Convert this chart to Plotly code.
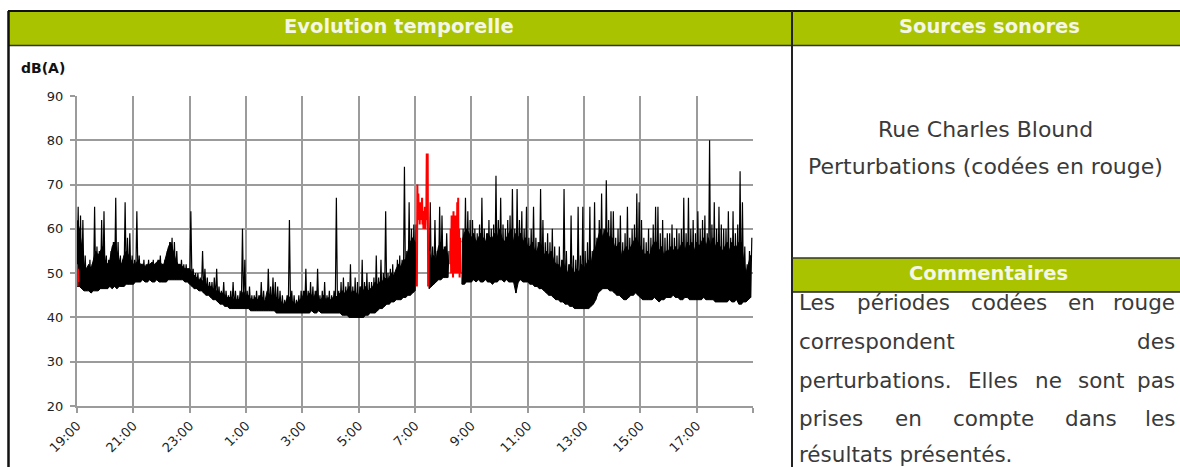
import plotly.graph_objects as go

# ---------------- data ----------------
# x axis: hours elapsed since 19:00 (0 .. 24)
tick_hours = [0, 2, 4, 6, 8, 10, 12, 14, 16, 18, 20, 22, 24]
tick_labels = ["19:00", "21:00", "23:00", "1:00", "3:00", "5:00", "7:00",
               "9:00", "11:00", "13:00", "15:00", "17:00", ""]
y_ticks = [20, 30, 40, 50, 60, 70, 80, 90]

step_min = 5  # sampling step of the black series (minutes), starting 19:00

# lower envelope of each 5-minute slot, dB(A)  (one row per hour, from 19:00)
lows = [
    47, 47, 46.5, 46, 46, 46, 45.5, 46, 46, 46, 46.5, 46.5,                 # 19h
    46.5, 46.5, 47, 46.5, 47, 46.5, 47, 47, 47, 47.5, 47.5, 47.5,           # 20h
    47.5, 48, 48, 48, 48.5, 48, 48, 48.5, 48, 48, 48.5, 48,                 # 21h
    48, 48, 48, 48.5, 48.5, 48.5, 48.5, 48.5, 48.5, 48.5, 48, 48,           # 22h
    47.5, 47, 46.5, 46.5, 46, 46, 45.5, 45, 45, 44.5, 44, 44,               # 23h
    43.5, 43, 43, 42.5, 42.5, 42, 42, 42, 42, 42, 42, 42,                   # 0h
    42, 42, 41.5, 41.5, 41.5, 41.5, 41.5, 41.5, 41.5, 41.5, 41.5, 41.5,     # 1h
    41.5, 41, 41, 41, 41, 41, 41, 41, 41, 41, 41, 41,                       # 2h
    41, 41, 41, 41, 41.5, 41, 41, 41.5, 41, 41, 41, 41,                     # 3h
    41, 41, 41, 41, 41, 40.5, 40.5, 40.5, 40, 40, 40, 40,                   # 4h
    40, 40, 40, 40.5, 40.5, 41, 41, 41, 41.5, 42, 42, 42.5,                 # 5h
    43, 43, 43.5, 43.5, 44, 44, 44, 44.5, 44.5, 45, 45, 45.5,               # 6h
    46, None, None, None, None, None, 46.5, 47, 47.5, 48, 48.5, 48.5,       # 7h
    49, 49, 49, None, None, None, None, None, 47.5, 47.5, 48, 48,           # 8h
    48, 48.5, 48, 48.5, 48, 48, 48.5, 48, 48, 47.5, 48, 48,                 # 9h
    48.5, 48.5, 48, 48.5, 48, 48, 48, 45.5, 48, 48.5, 48, 48,               # 10h
    48, 47.5, 47.5, 47, 47, 46.5, 46.5, 46, 45.5, 45, 45, 44.5,             # 11h
    44, 44, 43.5, 43.5, 43, 43, 42.5, 42.5, 42, 42, 42, 42,                 # 12h
    42, 42, 42, 42.5, 43, 44, 45.5, 46, 46.5, 46.5, 46.5, 46,               # 13h
    46, 45.5, 45, 45, 44.5, 44, 44, 44.5, 45, 45, 45.5, 45,                 # 14h
    44.5, 44, 44, 44, 44, 44, 44.5, 44, 43.5, 44, 44, 44.5,                 # 15h
    44.5, 44.5, 45, 44.5, 44.5, 44, 44, 44.5, 44.5, 44, 44, 44,             # 16h
    44, 44, 44, 44.5, 44, 44, 44, 44, 43.5, 43.5, 43.5, 43.5,               # 17h
    43.5, 43.5, 44, 43.5, 43.5, 44, 43, 43, 43.5, 43.5, 44, 44.5,           # 18h
]

# top of the dense (solid) part of each 5-minute slot, dB(A)
band_top = [
    62, 60, 56, 52, 51, 52, 51, 53, 55, 54, 55, 56,                         # 19h
    53, 52, 53, 56, 57, 55, 53, 52, 54, 55, 54, 53,                         # 20h
    52, 52, 53, 52, 52, 51.5, 52, 52, 52.5, 52, 52.5, 53,                   # 21h
    52, 52, 54, 56, 57, 55, 53, 52, 52, 51.5, 51, 51,                       # 22h
    51, 50, 49.5, 49, 48.5, 48.5, 48, 47.5, 47, 47, 46.5, 46,               # 23h
    46, 45.5, 45.5, 45, 44.5, 44.5, 44.5, 44, 44, 44, 45, 46,               # 0h
    44.5, 45, 44, 44, 44.5, 44, 45, 44.5, 43.5, 46, 45, 45,                 # 1h
    45, 44.5, 44, 43.5, 43, 43.5, 45, 44, 43.5, 43, 43.5, 44,               # 2h
    44.5, 46, 44.5, 45.5, 45, 44.5, 46, 44, 44, 45, 44, 44.5,               # 3h
    44, 44.5, 45, 44.5, 45.5, 46, 45.5, 46, 47, 45.5, 46, 45.5,             # 4h
    45, 47, 46, 47, 46, 46.5, 47, 48, 47.5, 48, 48, 49,                     # 5h
    48.5, 49, 50, 49.5, 51, 52, 51.5, 53, 53, 55, 57, 58,                   # 6h
    57, None, None, None, None, None, 55, 53, 54, 53, 56, 57,               # 7h
    55, 56, 54, None, None, None, None, None, 57, 59, 60, 59,               # 8h
    58, 59, 57, 58, 59, 58, 57, 59, 58, 58, 59, 58,                         # 9h
    60, 58, 57, 58, 59, 60, 57, 59, 58, 59, 57, 58,                         # 10h
    56, 56, 57, 55, 55, 57, 56, 54, 55, 54, 55, 53,                         # 11h
    52, 52, 51, 53, 51, 50, 52, 51, 50, 51, 50, 52,                         # 12h
    51, 52, 53, 52, 55, 56, 58, 60, 58, 60, 59, 58,                         # 13h
    58, 56, 56, 57, 54, 55, 56, 55, 56, 57, 58, 57,                         # 14h
    56, 55, 54, 55, 54, 56, 57, 57, 55, 56, 54, 55,                         # 15h
    55, 56, 55, 56, 55, 56, 57, 55, 57, 56, 57, 55,                         # 16h
    57, 56, 57, 58, 56, 58, 56, 58, 56, 57, 56, 55,                         # 17h
    56, 57, 55, 57, 56, 56, 57, 57, 53, 50, 52, 54,                         # 18h
]

# upper value (peak) of each 5-minute slot, dB(A)
highs = [
    65, 63, 62, 54, 51, 53, 52, 65, 56, 55, 62, 64,                         # 19h
    54, 53, 55, 57, 67, 57, 54, 53, 66, 58, 59, 54,                         # 20h
    53, 64, 54, 52, 53, 52, 53, 52, 53, 52, 53, 54,                         # 21h
    52, 53, 55, 57, 58, 57, 55, 52, 53, 52, 52, 51,                         # 22h
    64, 51, 50, 50, 49, 55, 51, 49, 48, 48, 49, 51,                         # 23h
    47, 46, 48, 46, 45, 46, 48, 46, 45, 46, 60, 53,                         # 0h
    46, 47, 45, 45, 46, 45, 48, 46, 44, 51, 47, 49,                         # 1h
    48, 47, 46, 45, 44, 45, 62, 46, 45, 44, 45, 46,                         # 2h
    46, 51, 46, 48, 47, 46, 51, 45, 46, 48, 45, 46,                         # 3h
    45, 46, 67, 46, 48, 49, 47, 48, 52, 47, 49, 48,                         # 4h
    47, 53, 48, 50, 48, 48, 49, 54, 49, 53, 50, 64,                         # 5h
    50, 51, 52, 50, 53, 54, 53, 74, 55, 66, 60, 61,                         # 6h
    61, None, None, None, None, None, 66, 56, 62, 55, 65, 63,               # 7h
    56, 59, 55, None, None, None, None, None, 60, 67, 64, 62,               # 8h
    62, 60, 59, 61, 67, 60, 59, 62, 60, 61, 72, 62,                         # 9h
    67, 61, 60, 62, 63, 69, 60, 69, 62, 64, 60, 65,                         # 10h
    58, 60, 65, 58, 57, 69, 62, 57, 59, 57, 60, 56,                         # 11h
    54, 56, 53, 69, 55, 52, 63, 54, 53, 65, 54, 65,                         # 12h
    55, 57, 65, 55, 66, 58, 62, 68, 60, 71, 62, 64,                         # 13h
    64, 58, 60, 63, 57, 59, 65, 58, 60, 61, 68, 66,                         # 14h
    62, 58, 57, 60, 58, 61, 65, 65, 59, 62, 58, 59,                         # 15h
    59, 61, 58, 60, 59, 60, 67, 59, 67, 60, 62, 59,                         # 16h
    64, 60, 62, 63, 59, 80, 61, 66, 60, 65, 61, 60,                         # 17h
    60, 64, 58, 64, 59, 61, 73, 66, 56, 52, 55, 58,                         # 18h
]

# perturbations (coded in red), 1-minute samples
red1_start_min = 0          # 19:00
red1_vals = [52, 47, 51, 48]
red2_start_min = 724        # 07:04
red2_vals = [47, 70, 62, 68, 63, 66, 61, 65, 62, 66, 63, 67, 61, 64, 60, 63,
             61, 65, 60, 63, 62, 77, 62, 77, 47, 55]
red3_start_min = 795        # 08:15
red3_vals = [52, 60, 50, 63, 51, 62, 49, 64, 52, 61, 50, 63, 55, 62, 50, 66,
             53, 67, 50, 60, 49, 58, 50]

# texts
title_left = "Evolution temporelle"
title_right = "Sources sonores"
title_comments = "Commentaires"
y_unit = "dB(A)"
sources = ["Rue Charles Blound", "Perturbations (codées en rouge)"]
comment_lines = [
    ["Les", "périodes", "codées", "en", "rouge"],
    ["correspondent", "des"],
    ["perturbations.", "Elles", "ne", "sont", "pas"],
    ["prises", "en", "compte", "dans", "les"],
    ["résultats présentés."],
]

# ---------------- build traces ----------------
fig = go.Figure()

segments, cur = [], []
for i, (lo, top) in enumerate(zip(lows, band_top)):
    if lo is None:
        if cur:
            segments.append(cur)
        cur = []
    else:
        cur.append((i * step_min / 60.0, lo, top))
if cur:
    segments.append(cur)
for seg in segments:
    xs = [s[0] for s in seg] + [s[0] for s in reversed(seg)]
    ys = [s[1] for s in seg] + [s[2] for s in reversed(seg)]
    fig.add_trace(go.Scatter(x=xs, y=ys, mode="lines", fill="toself", fillcolor="black",
                             line=dict(color="black", width=1), hoverinfo="skip",
                             showlegend=False))

bx, by = [], []
for i, (lo, hi) in enumerate(zip(lows, highs)):
    t = i * step_min / 60.0
    if lo is None:
        bx.append(None); by.append(None)
        continue
    bx += [t, t + step_min / 120.0]
    by += [lo, hi]
fig.add_trace(go.Scatter(x=bx, y=by, mode="lines", line=dict(color="black", width=1.2),
                         hoverinfo="skip", showlegend=False, connectgaps=False))

for s, v in [(red1_start_min, red1_vals), (red2_start_min, red2_vals), (red3_start_min, red3_vals)]:
    rx = [(s + k) / 60.0 for k in range(len(v))]
    fig.add_trace(go.Scatter(x=rx, y=v, mode="lines", line=dict(color="#ff0000", width=2),
                             hoverinfo="skip", showlegend=False))

# ---------------- layout ----------------
W, H = 1180, 467
L, R, T, B = 77, 753, 96, 406      # plot area in page pixels


def px(x):
    return (x - L) / (R - L)


def py(y):
    return (B - y) / (B - T)


GREEN = "#a9c300"
GRID = "#9b9b9b"
shapes = []
for x0, x1, y0, y1 in [(8, 792, 12, 45), (792, 1185, 12, 45), (792, 1185, 258, 292)]:
    shapes.append(dict(type="rect", xref="paper", yref="paper",
                       x0=px(x0), x1=px(x1), y0=py(y1), y1=py(y0),
                       fillcolor=GREEN, line=dict(width=0), layer="below"))
for x0, y0, x1, y1, c, w in [
    (8, 11, 1185, 11, "#111111", 2),
    (8, 45.5, 1185, 45.5, "#333333", 1.5),
    (8.5, 11, 8.5, 470, "#111111", 2.5),
    (792, 11, 792, 470, "#222222", 2),
    (792, 258, 1185, 258, "#333333", 1.5),
    (792, 292, 1185, 292, "#222222", 1.5),
]:
    shapes.append(dict(type="line", xref="paper", yref="paper",
                       x0=px(x0), x1=px(x1), y0=py(y0), y1=py(y1),
                       line=dict(color=c, width=w)))

ann = []
HDR_FONT = dict(family="DejaVu Sans", size=19.5, color="#f4f6e6")
for text, x, y in [(title_left, 399, 26), (title_right, 989, 26), (title_comments, 988, 273)]:
    ann.append(dict(text="<b>" + text + "</b>", x=px(x), y=py(y), xref="paper", yref="paper",
                    showarrow=False, xanchor="center", yanchor="middle", font=HDR_FONT))

ann.append(dict(text="<b>" + y_unit + "</b>", x=px(19), y=py(68), xref="paper", yref="paper",
                showarrow=False, xanchor="left", yanchor="middle",
                font=dict(family="DejaVu Sans", size=14, color="#111111")))

SRC_FONT = dict(family="DejaVu Sans", size=22, color="#3a3a3a")
for text, y in zip(sources, [129, 166]):
    ann.append(dict(text=text, x=px(985), y=py(y), xref="paper", yref="paper",
                    showarrow=False, xanchor="center", yanchor="middle", font=SRC_FONT))

# justified comment text (word widths estimated with DejaVu Sans advance widths)
CMT_SIZE = 21.5
ADV = {'a': .613, 'b': .635, 'c': .550, 'd': .635, 'e': .615, 'é': .615, 'g': .635, 'i': .278,
       'l': .278, 'm': .974, 'n': .634, 'o': .612, 'p': .635, 'r': .411, 's': .521, 't': .392,
       'u': .634, 'E': .632, 'L': .557, '.': .318, ' ': .318}


def text_w(s):
    return sum(ADV.get(ch, .6) for ch in s) * CMT_SIZE


CMT_FONT = dict(family="DejaVu Sans", size=CMT_SIZE, color="#3a3a3a")
x_left, x_right = 797, 1177
line_y = [302, 341, 380, 418, 455]
for yline, words in zip(line_y, comment_lines):
    n = len(words)
    if n == 1:
        ann.append(dict(text=words[0], x=px(x_left), y=py(yline), xref="paper", yref="paper",
                        showarrow=False, xanchor="left", yanchor="middle", font=CMT_FONT))
        continue
    widths = [text_w(w) for w in words]
    gap = (x_right - x_left - sum(widths)) / (n - 1)
    xcur = x_left
    for k, (w, wd) in enumerate(zip(words, widths)):
        if k == n - 1:
            ann.append(dict(text=w, x=px(x_right), y=py(yline), xref="paper", yref="paper",
                            showarrow=False, xanchor="right", yanchor="middle", font=CMT_FONT))
        else:
            ann.append(dict(text=w, x=px(xcur), y=py(yline), xref="paper", yref="paper",
                            showarrow=False, xanchor="left", yanchor="middle", font=CMT_FONT))
        xcur += wd + gap

TICK_FONT = dict(family="DejaVu Sans", size=13, color="#222222")
fig.update_layout(
    width=W, height=H,
    margin=dict(l=L, r=W - R, t=T, b=H - B, pad=0),
    paper_bgcolor="white", plot_bgcolor="white",
    shapes=shapes, annotations=ann,
    xaxis=dict(range=[0, 24], tickvals=tick_hours, ticktext=tick_labels, tickangle=-45,
               showgrid=True, gridcolor=GRID, gridwidth=1.6, zeroline=False,
               showline=True, linecolor=GRID, linewidth=2,
               ticks="outside", ticklen=5, tickcolor=GRID, tickwidth=1.6,
               tickfont=TICK_FONT),
    yaxis=dict(range=[20, 90], tickvals=y_ticks, showgrid=True, gridcolor=GRID, gridwidth=1.6,
               zeroline=False, showline=True, linecolor=GRID, linewidth=2,
               ticks="outside", ticklen=5, tickcolor=GRID, tickwidth=1.6,
               ticklabelstandoff=4, tickfont=TICK_FONT),
)

# remove the browser's default body margin so the figure fills the window exactly
fig.write_html("out.html", config={"displayModeBar": False},
               post_script="document.body.style.margin='0';document.body.style.overflow='hidden';")
